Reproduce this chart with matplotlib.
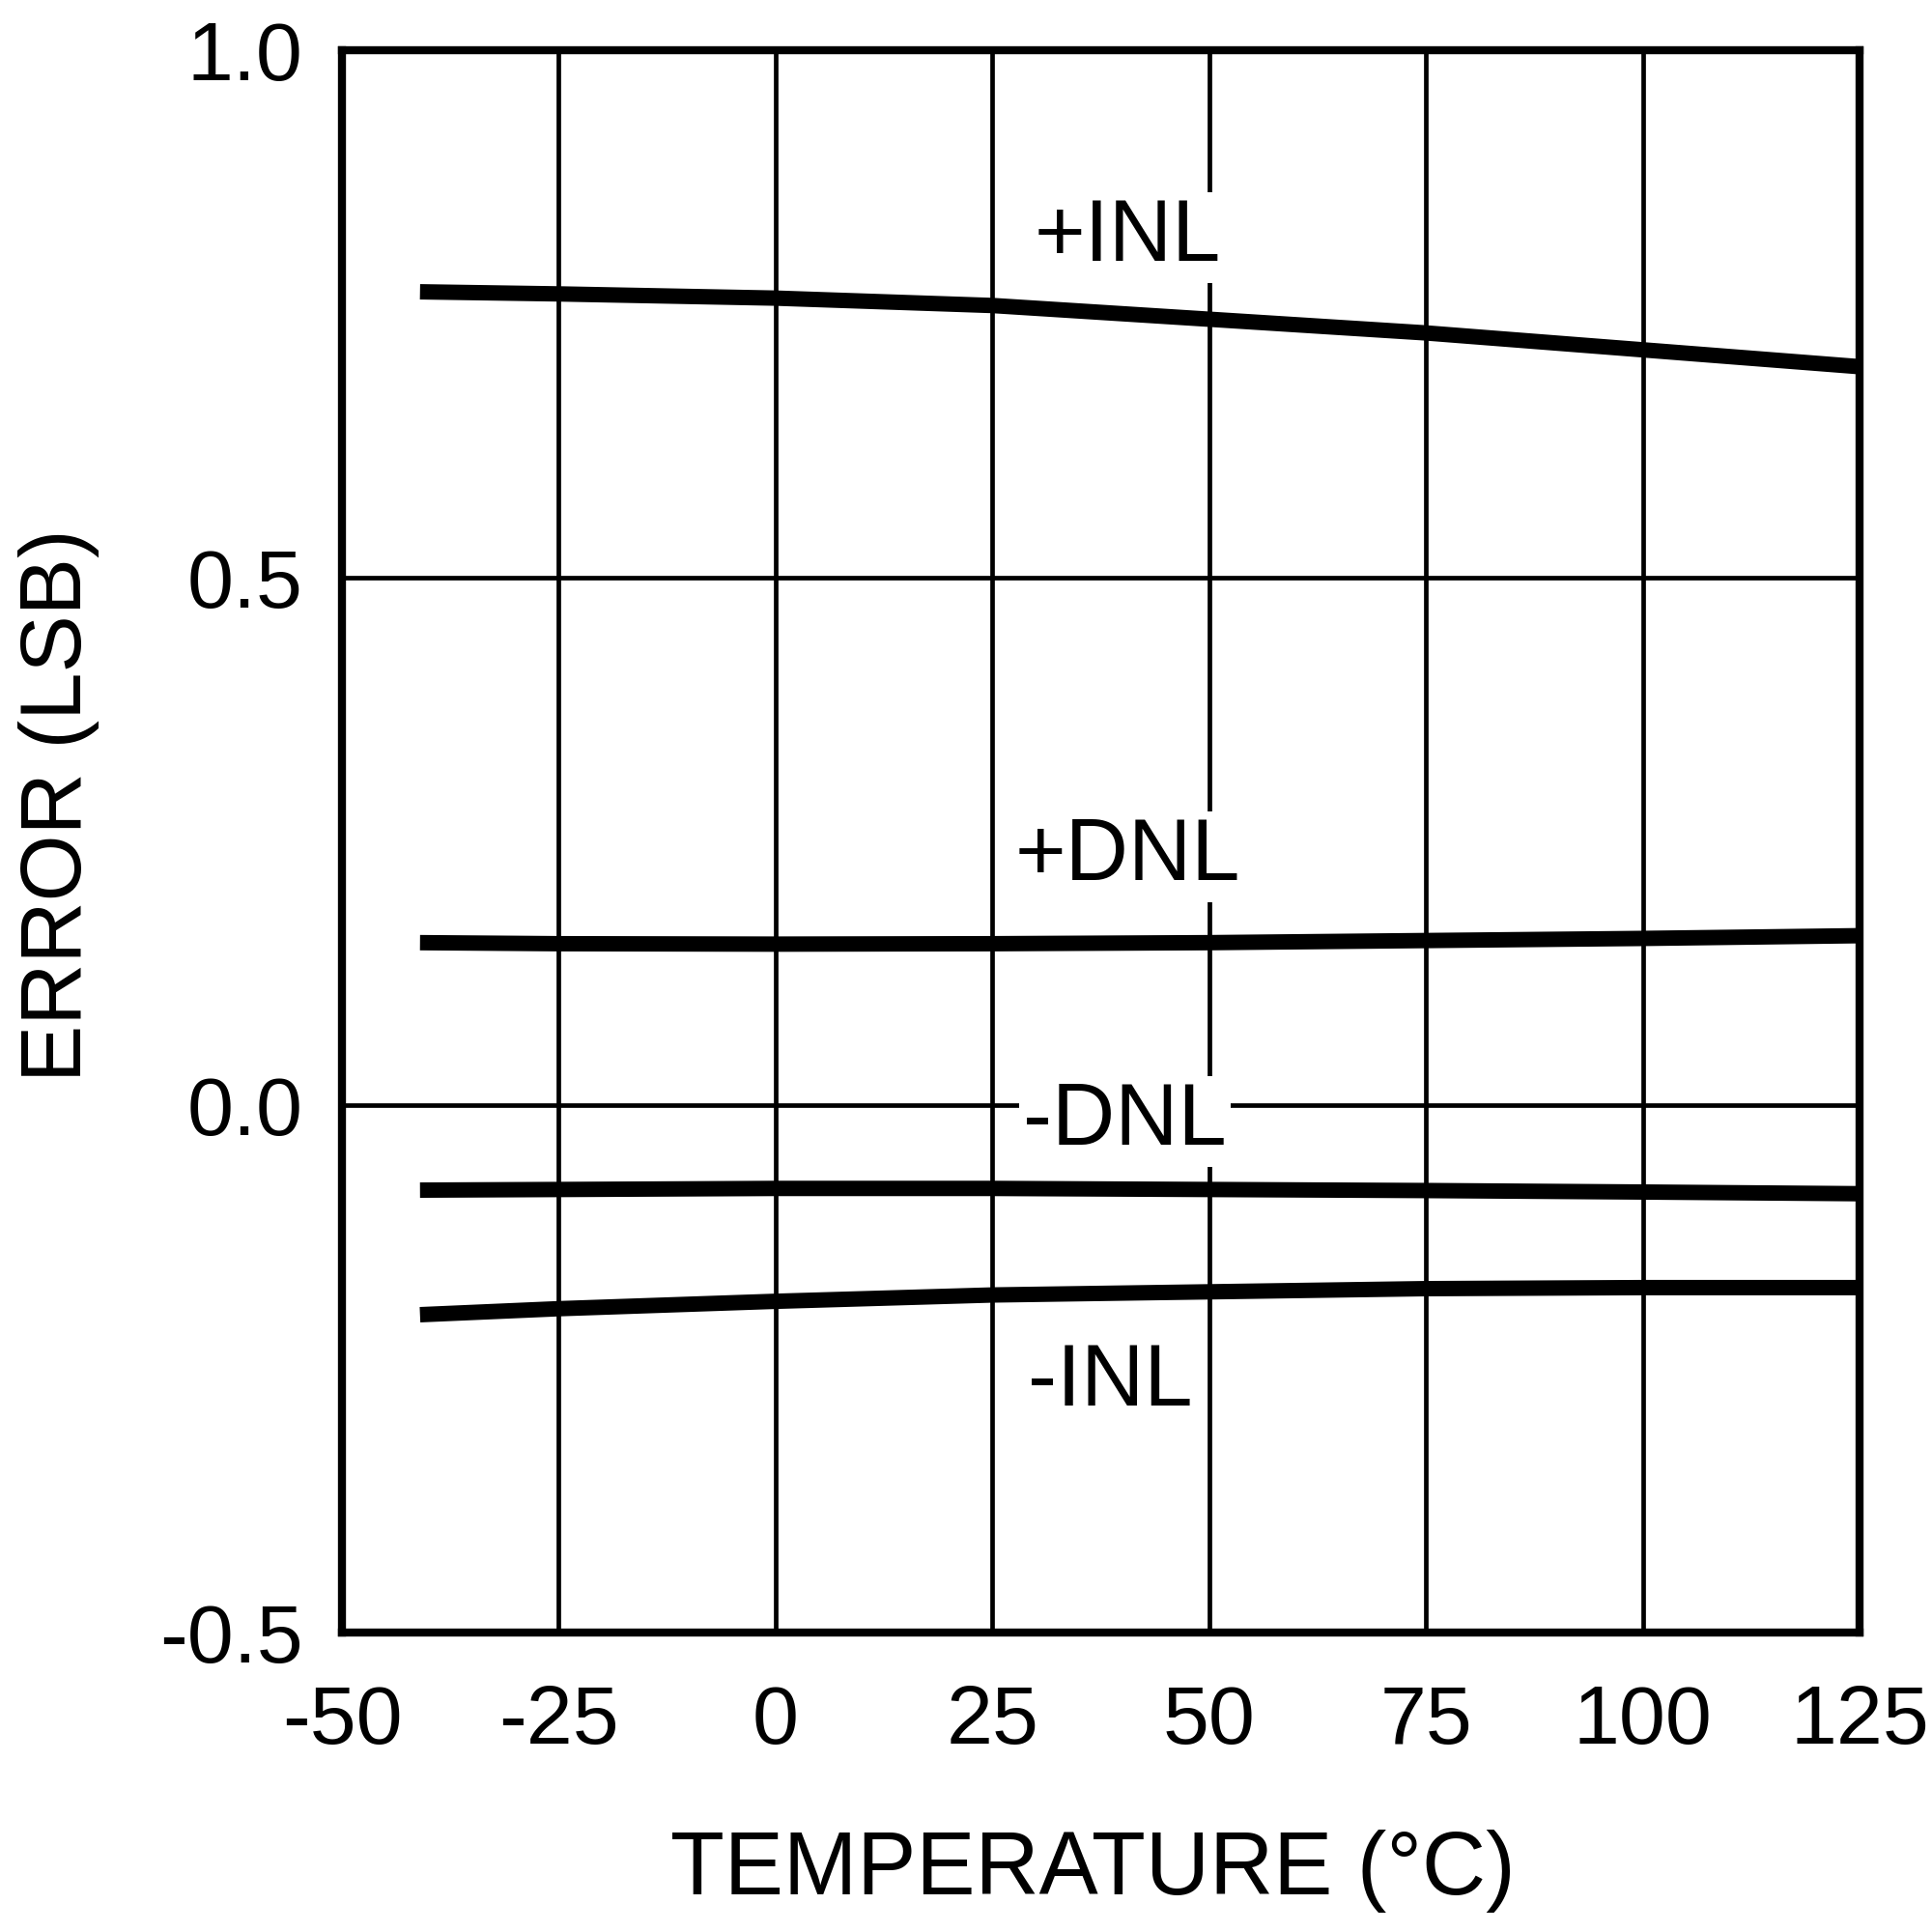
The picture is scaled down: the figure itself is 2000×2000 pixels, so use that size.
import matplotlib
matplotlib.use("Agg")
import matplotlib.pyplot as plt

plt.rcParams['font.family'] = ['Liberation Sans', 'DejaVu Sans']

temps = [-41, -25, 0, 25, 50, 75, 100, 125]
pos_inl = [0.771, 0.769, 0.765, 0.758, 0.745, 0.732, 0.716, 0.700]
pos_dnl = [0.154, 0.153, 0.1526, 0.153, 0.154, 0.156, 0.158, 0.1606]
neg_dnl = [-0.0806, -0.080, -0.079, -0.079, -0.080, -0.081, -0.0824, -0.084]
neg_inl = [-0.1987, -0.193, -0.186, -0.180, -0.177, -0.174, -0.173, -0.173]

series_labels = ["+INL", "+DNL", "-DNL", "-INL"]
label_x = [40.6, 40.6, 40.3, 38.6]
label_y = [0.822, 0.235, -0.0156, -0.263]

xticks = [-50, -25, 0, 25, 50, 75, 100, 125]
yticks = [-0.5, 0.0, 0.5, 1.0]
ytick_labels = ["-0.5", "0.0", "0.5", "1.0"]

fig = plt.figure(figsize=(20, 20), dpi=100)
ax = fig.add_axes([0.177, 0.155, 0.7855, 0.819])

for y in [pos_inl, pos_dnl, neg_dnl, neg_inl]:
    ax.plot(temps, y, color='black', lw=11.5, solid_capstyle='butt', zorder=3)

for lab, x, y in zip(series_labels, label_x, label_y):
    ax.text(x, y, lab, fontsize=65, ha='center', va='center', zorder=4,
            bbox=dict(facecolor='white', edgecolor='none', pad=3))

ax.set_xlim(-50, 125)
ax.set_ylim(-0.5, 1.0)
ax.set_xticks(xticks)
ax.set_xticklabels([str(t) for t in xticks])
ax.set_yticks(yticks)
ax.set_yticklabels(ytick_labels)
ax.tick_params(length=0, labelsize=62)
ax.tick_params(axis='x', pad=38)
ax.tick_params(axis='y', pad=29)
ax.grid(True, color='black', lw=3.4, zorder=1)
for s in ax.spines.values():
    s.set_linewidth(6)
    s.set_zorder(5)

ax.set_xlabel("TEMPERATURE (°C)", fontsize=66, labelpad=51)
ax.set_ylabel("ERROR (LSB)", fontsize=64, labelpad=45)
ax.xaxis.label.set_x(0.495)
ax.yaxis.label.set_y(0.523)

fig.savefig("out.png", dpi=100, facecolor='white')
